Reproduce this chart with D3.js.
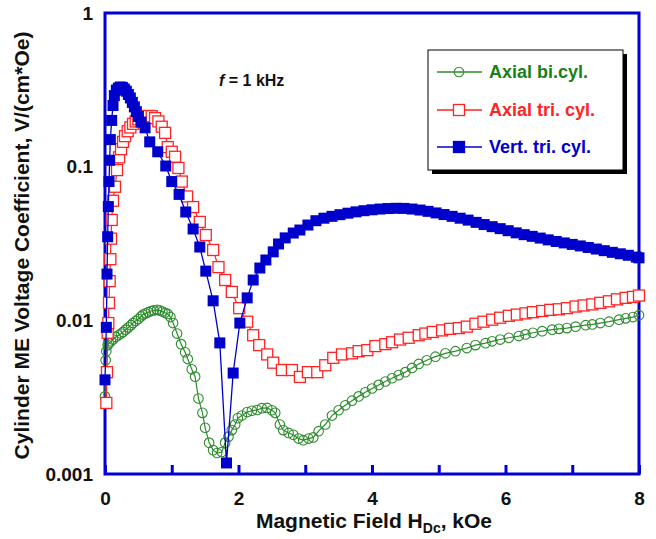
<!DOCTYPE html>
<html>
<head>
<meta charset="utf-8">
<script src="https://cdnjs.cloudflare.com/ajax/libs/d3/7.8.5/d3.min.js"></script>
<style>
  body { margin: 0; background: #fff; }
  text { font-family: "Liberation Sans", Arial, sans-serif; font-weight: bold; }
</style>
</head>
<body>
<div id="container"></div>
<script>
// ME voltage coefficient vs H_dc
var greenField = [0, 0.01, 0.02, 0.04, 0.06, 0.09, 0.12, 0.16, 0.2, 0.24, 0.27, 0.31, 0.35, 0.39, 0.42, 0.46, 0.5, 0.54, 0.57, 0.61, 0.65, 0.69, 0.73, 0.78, 0.82, 0.86, 0.9, 0.94, 0.98, 1.02, 1.08, 1.14, 1.2, 1.24, 1.3, 1.35, 1.4, 1.46, 1.5, 1.56, 1.62, 1.68, 1.75, 1.8, 1.85, 1.9, 1.95, 1.99, 2.05, 2.13, 2.2, 2.28, 2.35, 2.43, 2.5, 2.55, 2.62, 2.67, 2.75, 2.82, 2.9, 2.97, 3.05, 3.12, 3.2, 3.3, 3.4, 3.5, 3.6, 3.7, 3.8, 3.9, 4.0, 4.1, 4.2, 4.3, 4.4, 4.5, 4.6, 4.7, 4.82, 4.95, 5.1, 5.25, 5.42, 5.55, 5.7, 5.8, 5.92, 6.05, 6.2, 6.3, 6.41, 6.55, 6.7, 6.8, 6.92, 7.05, 7.2, 7.3, 7.42, 7.55, 7.7, 7.8, 7.91, 8.0];
var greenCoef = [0.0032, 0.0055, 0.0063, 0.0069, 0.0071, 0.0073, 0.0075, 0.0078, 0.008, 0.0082, 0.0084, 0.0087, 0.009, 0.0093, 0.0096, 0.0099, 0.0102, 0.0106, 0.0109, 0.0111, 0.0113, 0.0115, 0.0116, 0.0117, 0.0116, 0.0114, 0.0112, 0.011, 0.0105, 0.0096, 0.0082, 0.007, 0.0062, 0.0056, 0.0048, 0.0043, 0.0031, 0.0025, 0.002, 0.0016, 0.00143, 0.00137, 0.00139, 0.0016, 0.00175, 0.00193, 0.0021, 0.00231, 0.0024, 0.00253, 0.00258, 0.00261, 0.00268, 0.00269, 0.0026, 0.0025, 0.0021, 0.00193, 0.00185, 0.0018, 0.0017, 0.00166, 0.0017, 0.00173, 0.0019, 0.0021, 0.0024, 0.0026, 0.0028, 0.003, 0.0032, 0.0034, 0.0036, 0.0038, 0.004, 0.0042, 0.0044, 0.0046, 0.0049, 0.0052, 0.0055, 0.0058, 0.0061, 0.0063, 0.0066, 0.0069, 0.0071, 0.0073, 0.0075, 0.0077, 0.0079, 0.0081, 0.0083, 0.0085, 0.0087, 0.0088, 0.0089, 0.0091, 0.0093, 0.0094, 0.0096, 0.0098, 0.0101, 0.0103, 0.0105, 0.0108];

var redField = [0.02, 0.03, 0.04, 0.05, 0.06, 0.07, 0.08, 0.09, 0.1, 0.12, 0.15, 0.18, 0.21, 0.24, 0.27, 0.3, 0.34, 0.38, 0.42, 0.46, 0.5, 0.55, 0.6, 0.65, 0.7, 0.75, 0.8, 0.85, 0.9, 0.94, 1.0, 1.05, 1.1, 1.15, 1.23, 1.32, 1.42, 1.51, 1.62, 1.7, 1.8, 1.9, 2.01, 2.13, 2.22, 2.31, 2.43, 2.52, 2.65, 2.8, 2.92, 3.04, 3.18, 3.3, 3.42, 3.55, 3.7, 3.8, 3.93, 4.05, 4.2, 4.3, 4.42, 4.55, 4.7, 4.8, 4.91, 5.05, 5.17, 5.3, 5.42, 5.55, 5.67, 5.8, 5.92, 6.05, 6.17, 6.3, 6.41, 6.55, 6.67, 6.8, 6.92, 7.05, 7.17, 7.3, 7.42, 7.55, 7.67, 7.8, 7.91, 8.0];
var redCoef = [0.0029, 0.0046, 0.0083, 0.0096, 0.013, 0.018, 0.025, 0.034, 0.045, 0.06, 0.074, 0.095, 0.115, 0.13, 0.145, 0.158, 0.17, 0.18, 0.19, 0.197, 0.203, 0.208, 0.212, 0.214, 0.213, 0.207, 0.197, 0.182, 0.166, 0.134, 0.125, 0.116, 0.098, 0.08, 0.064, 0.0546, 0.0437, 0.0359, 0.0287, 0.0222, 0.0183, 0.0153, 0.012, 0.0098, 0.008, 0.0069, 0.006, 0.0053, 0.00475, 0.00475, 0.00428, 0.0046, 0.0046, 0.0051, 0.0057, 0.006, 0.0061, 0.0063, 0.0064, 0.0068, 0.007, 0.0072, 0.0075, 0.0077, 0.008, 0.0082, 0.0084, 0.0086, 0.0088, 0.0089, 0.0091, 0.0095, 0.0098, 0.0101, 0.0104, 0.0107, 0.0109, 0.0111, 0.0113, 0.0115, 0.0117, 0.0118, 0.012, 0.0123, 0.0125, 0.0127, 0.013, 0.0133, 0.0137, 0.014, 0.0142, 0.0145];

var blueField = [0, 0.02, 0.03, 0.04, 0.05, 0.06, 0.07, 0.08, 0.1, 0.12, 0.14, 0.17, 0.2, 0.23, 0.26, 0.29, 0.32, 0.35, 0.38, 0.41, 0.44, 0.47, 0.5, 0.54, 0.6, 0.67, 0.79, 0.91, 1.0, 1.11, 1.21, 1.32, 1.42, 1.51, 1.62, 1.72, 1.82, 1.92, 2.02, 2.13, 2.22, 2.32, 2.41, 2.52, 2.6, 2.7, 2.82, 2.92, 3.04, 3.16, 3.28, 3.4, 3.52, 3.64, 3.76, 3.88, 4.0, 4.12, 4.24, 4.36, 4.48, 4.6, 4.72, 4.84, 4.96, 5.08, 5.2, 5.32, 5.44, 5.56, 5.68, 5.8, 5.92, 6.04, 6.16, 6.28, 6.4, 6.52, 6.64, 6.76, 6.88, 7.0, 7.12, 7.24, 7.36, 7.48, 7.6, 7.72, 7.84, 7.96, 8.0];
var blueCoef = [0.0041, 0.009, 0.02, 0.035, 0.055, 0.08, 0.11, 0.15, 0.2, 0.25, 0.29, 0.315, 0.325, 0.33, 0.328, 0.32, 0.31, 0.295, 0.28, 0.262, 0.245, 0.228, 0.212, 0.195, 0.179, 0.145, 0.125, 0.101, 0.08, 0.066, 0.0507, 0.0393, 0.03, 0.0209, 0.0134, 0.00713, 0.00118, 0.00454, 0.0096, 0.014, 0.0183, 0.0219, 0.0247, 0.0279, 0.0314, 0.0344, 0.037, 0.0387, 0.0417, 0.0445, 0.0462, 0.0475, 0.0487, 0.0498, 0.0508, 0.0517, 0.0524, 0.053, 0.0534, 0.0536, 0.0535, 0.053, 0.0522, 0.0512, 0.05, 0.0488, 0.0475, 0.0462, 0.0449, 0.0434, 0.042, 0.0407, 0.0395, 0.0383, 0.0371, 0.0361, 0.0352, 0.0343, 0.0334, 0.0326, 0.0319, 0.0312, 0.0305, 0.0298, 0.0291, 0.0284, 0.0277, 0.0271, 0.0265, 0.0258, 0.0255];

var xTicks = [0, 1, 2, 3, 4, 5, 6, 7, 8];
var xTickLabels = ["0", "", "2", "", "4", "", "6", "", "8"];
var yTicks = [0.001, 0.01, 0.1, 1];
var yTickLabels = ["0.001", "0.01", "0.1", "1"];
var seriesNames = ["Axial bi.cyl.", "Axial tri. cyl.", "Vert. tri. cyl."];

var W = 656, H = 539;
var plotL = 105, plotR = 639, plotT = 13, plotB = 474;
var green = "#2e8b2e", red = "#ff2424", blue = "#0000cc", frame = "#0000d6";

var svg = d3.select("#container").append("svg")
  .attr("width", W).attr("height", H);

var xScale = d3.scaleLinear().domain([0, 8]).range([plotL, plotR]);
var yScale = d3.scaleLog().domain([0.001, 1]).range([plotB, plotT]);

// plot frame
svg.append("rect")
  .attr("x", plotL).attr("y", plotT)
  .attr("width", plotR - plotL).attr("height", plotB - plotT)
  .attr("fill", "none").attr("stroke", frame).attr("stroke-width", 3);

// bottom axis, ticks pointing inward
var xAxis = d3.axisBottom(xScale)
  .tickValues(xTicks).tickSize(-9).tickPadding(18)
  .tickFormat(function(d, i) { return xTickLabels[i]; });
var gx = svg.append("g").attr("transform", "translate(0," + plotB + ")").call(xAxis);
gx.select(".domain").remove();
gx.selectAll(".tick line").attr("stroke", frame).attr("stroke-width", 3);
gx.selectAll(".tick text").attr("fill", "#111").style("font-size", "19px");

var yAxis = d3.axisLeft(yScale)
  .tickValues(yTicks).tickSize(0).tickPadding(12)
  .tickFormat(function(d, i) { return yTickLabels[i]; });
var gy = svg.append("g").attr("transform", "translate(" + plotL + ",0)").call(yAxis);
gy.select(".domain").remove();
gy.selectAll(".tick text").attr("fill", "#111").style("font-size", "19px");

// axis titles
var xt = svg.append("text")
  .attr("x", (plotL + plotR) / 2 + 2).attr("y", 528)
  .attr("text-anchor", "middle").attr("fill", "#111").style("font-size", "21px");
xt.append("tspan").text("Magnetic Field H");
xt.append("tspan").attr("dy", 5).style("font-size", "14px").text("Dc");
xt.append("tspan").attr("dy", -5).text(", kOe");

svg.append("text")
  .attr("transform", "translate(29," + ((plotT + plotB) / 2 + 2) + ") rotate(-90)")
  .attr("text-anchor", "middle").attr("fill", "#111").style("font-size", "21px")
  .text("Cylinder ME Voltage Coefficient, V/(cm*Oe)");

var ft = svg.append("text").attr("x", 219).attr("y", 86).attr("fill", "#111").style("font-size", "16px");
ft.append("tspan").style("font-style", "italic").text("f");
ft.append("tspan").text(" = 1 kHz");

// series
function pairs(xs, ys) {
  return xs.map(function(x, i) { return [x, ys[i]]; });
}
var line = d3.line()
  .x(function(d) { return xScale(d[0]); })
  .y(function(d) { return yScale(d[1]); });

var greenData = pairs(greenField, greenCoef);
var redData = pairs(redField, redCoef);
var blueData = pairs(blueField, blueCoef);

svg.append("path").datum(greenData).attr("d", line)
  .attr("fill", "none").attr("stroke", green).attr("stroke-width", 1.2);
svg.selectAll("circle.g").data(greenData).enter().append("circle")
  .attr("class", "g")
  .attr("cx", function(d) { return xScale(d[0]); })
  .attr("cy", function(d) { return yScale(d[1]); })
  .attr("r", 4.8)
  .attr("fill", "none").attr("stroke", green).attr("stroke-width", 1.1);

svg.append("path").datum(redData).attr("d", line)
  .attr("fill", "none").attr("stroke", red).attr("stroke-width", 1.2);
svg.selectAll("rect.r").data(redData).enter().append("rect")
  .attr("class", "r")
  .attr("x", function(d) { return xScale(d[0]) - 5.5; })
  .attr("y", function(d) { return yScale(d[1]) - 5.5; })
  .attr("width", 11).attr("height", 11)
  .attr("fill", "#fff").attr("stroke", red).attr("stroke-width", 1.3);

svg.append("path").datum(blueData).attr("d", line)
  .attr("fill", "none").attr("stroke", blue).attr("stroke-width", 1.3);
svg.selectAll("rect.b").data(blueData).enter().append("rect")
  .attr("class", "b")
  .attr("x", function(d) { return xScale(d[0]) - 5.5; })
  .attr("y", function(d) { return yScale(d[1]) - 5.5; })
  .attr("width", 11).attr("height", 11)
  .attr("fill", blue);

// legend
var lg = svg.append("g");
lg.append("rect").attr("x", 432).attr("y", 54).attr("width", 195).attr("height", 120).attr("fill", "#000");
lg.append("rect").attr("x", 428).attr("y", 50).attr("width", 195).attr("height", 120)
  .attr("fill", "#fff").attr("stroke", "#000").attr("stroke-width", 1);

var legendColors = [green, red, blue];
var legendText = ["#1a7f1a", red, blue];
var rowY = [72, 110, 147];
seriesNames.forEach(function(name, i) {
  lg.append("line").attr("x1", 437).attr("x2", 482).attr("y1", rowY[i]).attr("y2", rowY[i])
    .attr("stroke", legendColors[i]).attr("stroke-width", 1.3);
  if (i === 0) {
    lg.append("circle").attr("cx", 459).attr("cy", rowY[i]).attr("r", 4.8)
      .attr("fill", "none").attr("stroke", green).attr("stroke-width", 1.1);
  } else {
    lg.append("rect").attr("x", 453.5).attr("y", rowY[i] - 5.5).attr("width", 11).attr("height", 11)
      .attr("fill", i === 1 ? "#fff" : blue).attr("stroke", legendColors[i]).attr("stroke-width", 1.3);
  }
  lg.append("text").attr("x", 489).attr("y", rowY[i]).attr("dy", "0.35em")
    .attr("fill", legendText[i]).style("font-size", "18px").text(name);
});
</script>
</body>
</html>
